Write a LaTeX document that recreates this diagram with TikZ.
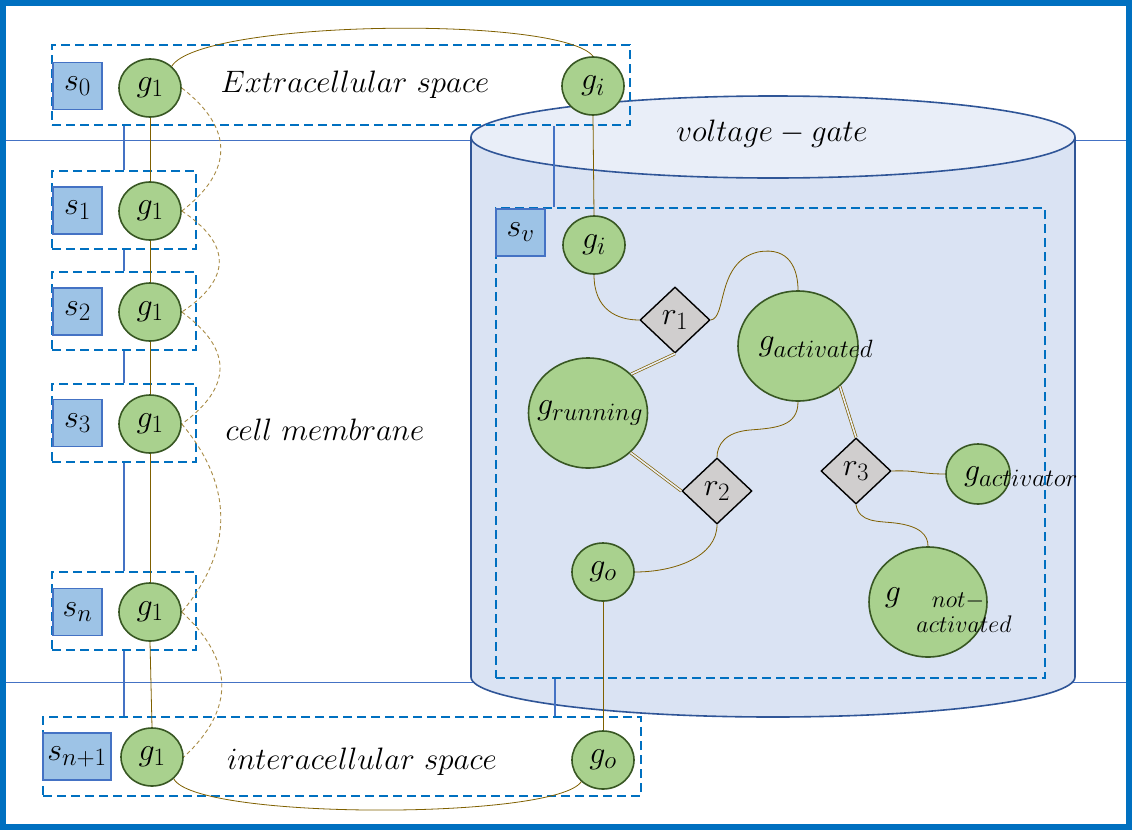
\RequirePackage{fix-cm}
\documentclass[tikz,border=0pt]{standalone}
\usepackage{amsmath}
\usetikzlibrary{shapes.geometric,calc}
\DeclareMathSizes{32}{32}{25}{18}
\DeclareMathSizes{31}{31}{24}{17}
\DeclareMathSizes{24}{24}{18}{13}
\definecolor{frameblue}{HTML}{0070C0}
\definecolor{lineblue}{HTML}{4472C4}
\definecolor{sfill}{HTML}{9DC3E6}
\definecolor{gfill}{HTML}{A9D18E}
\definecolor{gdraw}{HTML}{385723}
\definecolor{rfill}{HTML}{D0CECE}
\definecolor{brownln}{HTML}{7F6000}
\definecolor{dashbrown}{HTML}{A88B45}
\definecolor{cyldraw}{HTML}{2F5597}
\definecolor{cylbody}{HTML}{DAE3F3}
\definecolor{cyltop}{HTML}{E9EEF8}
\begin{document}
\begin{tikzpicture}[x=1pt,y=-1pt,
  every node/.style={inner sep=0pt, font=\fontsize{32}{38}\selectfont},
  gnode/.style={ellipse, draw=gdraw, fill=gfill, line width=1.6pt, minimum width=62pt, minimum height=58pt},
  sbox/.style={rectangle, draw=lineblue, fill=sfill, line width=1.6pt, minimum width=49pt, minimum height=47pt},
  dbox/.style={rectangle, draw=frameblue, line width=1.8pt, dash pattern=on 9pt off 5pt},
  rnode/.style={diamond, draw=black, fill=rfill, line width=1.4pt, minimum width=70pt, minimum height=66pt},
  conn/.style={draw=lineblue, line width=2.5pt},
  bline/.style={draw=brownln, line width=0.8pt},
  dbl/.style={draw=brownln, line width=0.7pt, double=cyltop, double distance=1.6pt},
  dbrown/.style={draw=dashbrown, line width=0.9pt, dash pattern=on 4pt off 3pt},
  lbl/.style={font=\fontsize{31}{37}\selectfont},
  subtxt/.style={font=\fontsize{24}{28}\selectfont}
]
\useasboundingbox (0,0) rectangle (1132,830);
% frame
\draw[frameblue, line width=6pt] (3,3) rectangle (1129,827);
% horizontal membrane lines
\draw[lineblue, line width=1pt] (6,140) -- (1126,140);
\draw[lineblue, line width=1pt] (6,682) -- (1126,682);
% cylinder
\fill[cylbody] (471,137) -- (471,677) .. controls (471,699.1) and (606.2,717) .. (773,717)
  .. controls (939.8,717) and (1075,699.1) .. (1075,677) -- (1075,137) -- cycle;
\draw[cyldraw, line width=1.6pt] (471,137) -- (471,677) .. controls (471,699.1) and (606.2,717) .. (773,717)
  .. controls (939.8,717) and (1075,699.1) .. (1075,677) -- (1075,137);
\draw[cyldraw, fill=cyltop, line width=1.6pt] (773,137) ellipse[x radius=302, y radius=41];
\node[lbl] (vg) at (772,134) {$voltage - gate$};
% dashed containers
\node[dbox, minimum width=578pt, minimum height=80pt] (box0) at (341,85) {};
\node[dbox, minimum width=144pt, minimum height=78pt] (box1) at (124,210) {};
\node[dbox, minimum width=144pt, minimum height=78pt] (box2) at (124,311) {};
\node[dbox, minimum width=144pt, minimum height=78pt] (box3) at (124,423) {};
\node[dbox, minimum width=144pt, minimum height=78pt] (boxn) at (124,611) {};
\node[dbox, minimum width=598pt, minimum height=79pt] (boxb) at (342,756.5) {};
\node[dbox, minimum width=549pt, minimum height=470pt] (svbox) at (770.5,443) {};
% blue connectors
\draw[conn] (box0.south -| box1.north) -- (box1.north);
\draw[conn] (box1.south) -- (box2.north);
\draw[conn] (box2.south) -- (box3.north);
\draw[conn] (box3.south) -- (boxn.north);
\draw[conn] (boxn.south) -- (boxn.south |- boxb.north);
\coordinate (svt) at ($(svbox.north west)+(59,0)$);
\coordinate (svb) at ($(svbox.south west)+(60,0)$);
\draw[conn] (svt |- box0.south) -- (svt);
\draw[conn] (svb) -- (svb |- boxb.north);
% s boxes
\node[sbox] (s0) at (77.5,86) {$s_0$};
\node[sbox] (s1) at (77.5,210.5) {$s_1$};
\node[sbox] (s2) at (77.5,311.5) {$s_2$};
\node[sbox] (s3) at (77.5,423) {$s_3$};
\node[sbox] (sn) at (77.5,612) {$s_n$};
\node[sbox, minimum width=68pt] (snp) at (77,756.5) {$s_{n+1}$};
\node[sbox] (sv) at (520.5,232.5) {$s_v$};
% region labels
\node[lbl] (ext) at (355,85) {$Extracellular\ space$};
\node[lbl] (cm) at (325,430) {$cell\ membrane$};
\node[lbl] (inter) at (362,762) {$interacellular\ space$};
% g nodes
\node[gnode] (g0) at (150,88) {$g_1$};
\node[gnode] (g1) at (150,211) {$g_1$};
\node[gnode] (g2) at (150,312) {$g_1$};
\node[gnode] (g3) at (150,424) {$g_1$};
\node[gnode] (gn) at (150,612) {$g_1$};
\node[gnode] (gb) at (152,757) {$g_1$};
\node[gnode] (gi) at (593,86) {$g_i$};
\node[gnode] (gib) at (594,245) {$g_i$};
\node[gnode] (go) at (603,572) {$g_o$};
\node[gnode] (gob) at (603,760) {$g_o$};
\node[gnode, minimum width=120pt, minimum height=110pt] (gact) at (798,346) {};
\node[gnode, minimum width=119pt, minimum height=110pt] (grun) at (588,413) {};
\node[gnode, minimum width=118pt, minimum height=110pt] (gnot) at (928,602) {};
\node[gnode, minimum width=64pt, minimum height=60pt] (gactor) at (978,474) {};
% reactions
\node[rnode] (r1) at (675,320) {$r_1$};
\node[rnode] (r2) at (717,491) {$r_2$};
\node[rnode] (r3) at (856,471) {$r_3$};
% brown connections (left column)
\draw[bline] (g0) -- (g1);
\draw[bline] (g1) -- (g2);
\draw[bline] (g2) -- (g3);
\draw[bline] (g3) -- (gn);
\draw[bline] (gn.south) -- (gb.north);
\draw[bline] (gi.south) -- (gib.north);
\draw[bline] (go.south) -- (gob.north);
\draw[bline] (g0.45) .. controls (200,20) and (560,15) .. (gi.north);
\draw[bline] (gb.-45) .. controls (195,820) and (555,820) .. (gob.-135);
% dashed links
\draw[dbrown] (g0.east) .. controls +(52,40) and +(52,-40) .. (g1.east);
\draw[dbrown] (g1.east) .. controls +(50,33) and +(50,-33) .. (g2.east);
\draw[dbrown] (g2.east) .. controls +(51,37) and +(51,-37) .. (g3.east);
\draw[dbrown] (g3.east) .. controls +(52,62) and +(52,-62) .. (gn.east);
\draw[dbrown] (gn.east) .. controls +(52,48) and +(52,-48) .. (gb.east);
% inner reaction network
\draw[bline] (gib.south) .. controls +(0,35) and +(-22,0) .. (r1.west);
\draw[bline] (r1.east) .. controls (727,318) and (716,262) .. (758,252)
  .. controls (790,246) and (798,270) .. (gact.north);
\draw[dbl] (r1.south) -- (grun.42);
\draw[bline] (gact.south) .. controls +(0,25) and (775,428) .. (750,430)
  .. controls (725,432) and (717,445) .. (r2.north);
\draw[dbl] (grun.-43) -- (r2.west);
\draw[bline] (r2.south) .. controls +(0,32) and +(40,0) .. (go.east);
\draw[dbl] (gact.-44) -- (r3.north);
\draw[bline] (r3.east) .. controls +(25,-1) and +(-25,0) .. (gactor.west);
\draw[bline] (r3.south) .. controls +(3,18) and (878,521) .. (895,523)
  .. controls (920,526) and (928,535) .. (gnot.north);
% labels of big nodes
\node (gacttxt) at (816,347) {$g_{activated}$};
\node (gruntxt) at (590,413) {$g_{running}$};
\node (gactortxt) at (1021,477) {$g_{activator}$};
\node (gnotg) at (893,598) {$g$};
\node[subtxt] (gnots1) at (958,601) {$not-$};
\node[subtxt] (gnots2) at (964,624) {$activated$};
\end{tikzpicture}
\end{document}
